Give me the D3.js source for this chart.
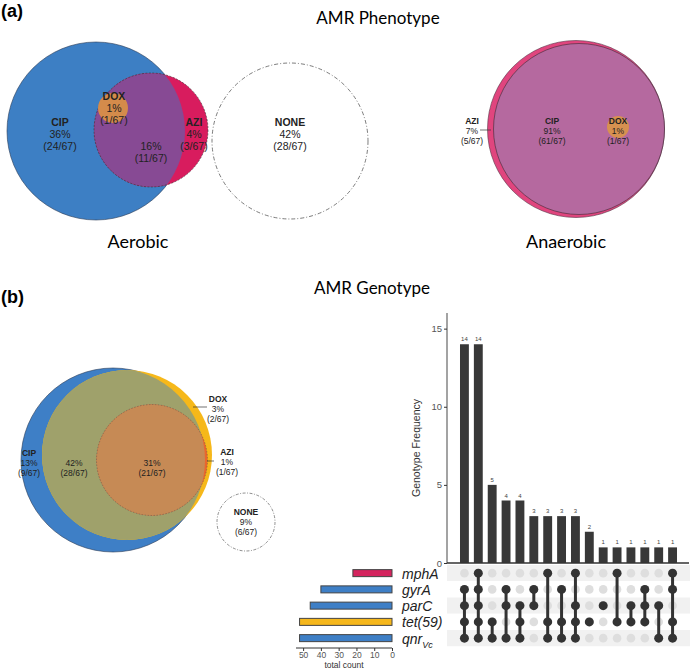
<!DOCTYPE html>
<html>
<head>
<meta charset="utf-8">
<script src="https://cdn.jsdelivr.net/npm/d3@7"></script>
<style>
  body { margin: 0; background: #fff; }
  svg { display: block; }
</style>
</head>
<body>
<svg id="chart" width="692" height="672"></svg>
<script>
// ---- data ----
var aerobicSets = ["CIP", "AZI", "DOX", "NONE"];
var aerobicPct = ["36%", "4%", "1%", "42%"];
var aerobicCount = ["(24/67)", "(3/67)", "(1/67)", "(28/67)"];
var aerobicOverlapPct = "16%";
var aerobicOverlapCount = "(11/67)";

var anaerobicSets = ["AZI", "CIP", "DOX"];
var anaerobicPct = ["7%", "91%", "1%"];
var anaerobicCount = ["(5/67)", "(61/67)", "(1/67)"];

var genoVennSets = ["CIP", "DOX", "AZI", "NONE"];
var genoVennPct = ["13%", "3%", "1%", "9%"];
var genoVennCount = ["(9/67)", "(2/67)", "(1/67)", "(6/67)"];
var genoOverlapPct = ["42%", "31%"];
var genoOverlapCount = ["(28/67)", "(21/67)"];

var genes = ["mphA", "gyrA", "parC", "tet(59)", "qnrVc"];
var geneTotals = [22, 40, 46, 52, 52];
var comboCounts = [14, 14, 5, 4, 4, 3, 3, 3, 3, 2, 1, 1, 1, 1, 1, 1];
var comboMembers = [
  ["gyrA", "parC", "tet(59)", "qnrVc"],
  ["mphA", "gyrA", "parC", "tet(59)", "qnrVc"],
  ["tet(59)", "qnrVc"],
  ["gyrA", "parC", "qnrVc"],
  ["parC", "tet(59)", "qnrVc"],
  ["gyrA", "parC"],
  ["mphA", "tet(59)", "qnrVc"],
  ["gyrA", "tet(59)", "qnrVc"],
  ["mphA", "parC", "tet(59)", "qnrVc"],
  ["tet(59)"],
  ["parC"],
  ["mphA", "tet(59)"],
  ["parC", "tet(59)"],
  ["gyrA", "parC", "tet(59)"],
  ["parC", "qnrVc"],
  ["mphA", "gyrA", "tet(59)", "qnrVc"]
];
var freqTicks = [0, 5, 10, 15];
var totalTicks = [50, 40, 30, 20, 10, 0];

var geneColor = { "mphA": "#d4245e", "gyrA": "#3e7fc6", "parC": "#3e7fc6", "tet(59)": "#f5b71c", "qnrVc": "#3e7fc6" };

var svg = d3.select("#chart");
var titleFont = "Lato, 'Open Sans', sans-serif";
var labFont = "'Liberation Sans', Arial, sans-serif";
var defs = svg.append("defs");

function clip(id, cx, cy, r) {
  defs.append("clipPath").attr("id", id)
    .append("circle").attr("cx", cx).attr("cy", cy).attr("r", r);
}

// three-line label: name (bold), percent, count
function label3(g, x, y, name, pct, cnt, size) {
  var t = g.append("text").attr("text-anchor", "middle")
    .attr("font-family", labFont).attr("font-size", size).attr("fill", "#222");
  var lh = size * 1.15;
  if (name) t.append("tspan").attr("x", x).attr("y", y).attr("font-weight", "bold").text(name);
  t.append("tspan").attr("x", x).attr("y", y + lh).text(pct);
  t.append("tspan").attr("x", x).attr("y", y + 2 * lh).text(cnt);
}

// ---- panel titles ----
svg.append("text").attr("x", 1).attr("y", 17).attr("font-family", labFont)
  .attr("font-weight", "bold").attr("font-size", 18).text("(a)");
svg.append("text").attr("x", 378).attr("y", 24).attr("text-anchor", "middle")
  .attr("font-family", titleFont).attr("font-size", 17).text("AMR Phenotype");
svg.append("text").attr("x", 1).attr("y", 303).attr("font-family", labFont)
  .attr("font-weight", "bold").attr("font-size", 18).text("(b)");
svg.append("text").attr("x", 372).attr("y", 294).attr("text-anchor", "middle")
  .attr("font-family", titleFont).attr("font-size", 17).text("AMR Genotype");

// ---- aerobic venn ----
var ga = svg.append("g");
clip("clipCipA", 96, 131, 89);
ga.append("circle").attr("cx", 96).attr("cy", 131).attr("r", 89)
  .attr("fill", "#3d7fc4").attr("stroke", "#2a3a55").attr("stroke-width", 0.6);
ga.append("circle").attr("cx", 151).attr("cy", 130).attr("r", 57)
  .attr("fill", "#d81c5e");
ga.append("circle").attr("cx", 151).attr("cy", 130).attr("r", 57)
  .attr("fill", "#874a94").attr("clip-path", "url(#clipCipA)");
ga.append("circle").attr("cx", 151).attr("cy", 130).attr("r", 57)
  .attr("fill", "none").attr("stroke", "#333").attr("stroke-width", 0.6)
  .attr("stroke-dasharray", "2,1.5");
ga.append("circle").attr("cx", 113).attr("cy", 108).attr("r", 15)
  .attr("fill", "#d48b4b");
ga.append("circle").attr("cx", 290).attr("cy", 141).attr("r", 78)
  .attr("fill", "#fff").attr("stroke", "#444").attr("stroke-width", 0.7)
  .attr("stroke-dasharray", "4,2,1,2");
label3(ga, 60, 126, aerobicSets[0], aerobicPct[0], aerobicCount[0], 10.5);
label3(ga, 194, 126, aerobicSets[1], aerobicPct[1], aerobicCount[1], 10.5);
label3(ga, 114, 100, aerobicSets[2], aerobicPct[2], aerobicCount[2], 10.5);
label3(ga, 290, 126, aerobicSets[3], aerobicPct[3], aerobicCount[3], 10.5);
label3(ga, 151, 138, null, aerobicOverlapPct, aerobicOverlapCount, 10.5);
svg.append("text").attr("x", 138).attr("y", 248).attr("text-anchor", "middle")
  .attr("font-family", titleFont).attr("font-size", 18).text("Aerobic");

// ---- anaerobic venn ----
var gn = svg.append("g");
gn.append("circle").attr("cx", 576).attr("cy", 129).attr("r", 88.5)
  .attr("fill", "#e0457e").attr("stroke", "#553344").attr("stroke-width", 0.6);
gn.append("circle").attr("cx", 579).attr("cy", 129).attr("r", 85.5)
  .attr("fill", "#b5699f").attr("stroke", "#3a2a35").attr("stroke-width", 0.6);
gn.append("circle").attr("cx", 618).attr("cy", 127).attr("r", 11)
  .attr("fill", "#d79150");
gn.append("line").attr("x1", 480).attr("x2", 491).attr("y1", 130).attr("y2", 130)
  .attr("stroke", "#333").attr("stroke-width", 0.7);
label3(gn, 472, 124, anaerobicSets[0], anaerobicPct[0], anaerobicCount[0], 8.5);
label3(gn, 552, 124, anaerobicSets[1], anaerobicPct[1], anaerobicCount[1], 8.5);
label3(gn, 618, 124, anaerobicSets[2], anaerobicPct[2], anaerobicCount[2], 8.5);
svg.append("text").attr("x", 566).attr("y", 248).attr("text-anchor", "middle")
  .attr("font-family", titleFont).attr("font-size", 18).text("Anaerobic");

// ---- genotype venn ----
var gv = svg.append("g");
clip("clipCipG", 113, 460, 92);
gv.append("circle").attr("cx", 113).attr("cy", 460).attr("r", 92)
  .attr("fill", "#3e7fc6").attr("stroke", "#2a3a55").attr("stroke-width", 0.6);
gv.append("circle").attr("cx", 127).attr("cy", 455).attr("r", 85)
  .attr("fill", "#f6b81a");
gv.append("circle").attr("cx", 127).attr("cy", 455).attr("r", 85)
  .attr("fill", "#9fa16b").attr("clip-path", "url(#clipCipG)");
gv.append("circle").attr("cx", 152).attr("cy", 460).attr("r", 55.5)
  .attr("fill", "#ea662c");
gv.append("circle").attr("cx", 152).attr("cy", 460).attr("r", 55.5)
  .attr("fill", "#c68a55").attr("clip-path", "url(#clipCipG)");
gv.append("circle").attr("cx", 152).attr("cy", 460).attr("r", 55.5)
  .attr("fill", "none").attr("stroke", "#555").attr("stroke-width", 0.5)
  .attr("stroke-dasharray", "1.5,1.5");
gv.append("circle").attr("cx", 246).attr("cy", 522).attr("r", 29)
  .attr("fill", "#fff").attr("stroke", "#444").attr("stroke-width", 0.6)
  .attr("stroke-dasharray", "3,1.5,1,1.5");
gv.append("line").attr("x1", 193).attr("x2", 207).attr("y1", 407).attr("y2", 407)
  .attr("stroke", "#333").attr("stroke-width", 0.7);
gv.append("line").attr("x1", 207).attr("x2", 214).attr("y1", 461).attr("y2", 461)
  .attr("stroke", "#333").attr("stroke-width", 0.7);
label3(gv, 29, 456, genoVennSets[0], genoVennPct[0], genoVennCount[0], 8.5);
label3(gv, 218, 402, genoVennSets[1], genoVennPct[1], genoVennCount[1], 8.5);
label3(gv, 227, 455, genoVennSets[2], genoVennPct[2], genoVennCount[2], 8.5);
label3(gv, 246, 515, genoVennSets[3], genoVennPct[3], genoVennCount[3], 8.5);
label3(gv, 74, 456, null, genoOverlapPct[0], genoOverlapCount[0], 8.5);
label3(gv, 152, 456, null, genoOverlapPct[1], genoOverlapCount[1], 8.5);

// ---- upset plot ----
var x = d3.scaleBand().domain(d3.range(comboCounts.length)).range([455, 682]).padding(0.36);
var y = d3.scaleLinear().domain([0, 16]).range([563, 313]);
var row = d3.scaleBand().domain(genes).range([565, 646.25]);
var tx = d3.scaleLinear().domain([0, 54]).range([392, 296]);

var gu = svg.append("g");

// frequency bars
gu.selectAll("rect.bar").data(comboCounts).enter().append("rect")
  .attr("class", "bar")
  .attr("x", function(d, i) { return x(i); })
  .attr("y", function(d) { return y(d); })
  .attr("width", x.bandwidth())
  .attr("height", function(d) { return y(0) - y(d); })
  .attr("fill", "#383838");
gu.selectAll("text.blab").data(comboCounts).enter().append("text")
  .attr("class", "blab")
  .attr("x", function(d, i) { return x(i) + x.bandwidth() / 2; })
  .attr("y", function(d) { return y(d) - 3; })
  .attr("text-anchor", "middle").attr("font-family", labFont)
  .attr("font-size", 6).attr("fill", "#444")
  .text(function(d) { return d; });

var yAxis = gu.append("g").attr("transform", "translate(447,0)")
  .call(d3.axisLeft(y).tickValues(freqTicks).tickSize(3).tickPadding(2));
yAxis.select(".domain").attr("d", "M0," + y(16) + "V" + y(0)).attr("stroke", "#666").attr("stroke-width", 1.2);
yAxis.selectAll(".tick line").attr("stroke", "#333");
yAxis.selectAll(".tick text").attr("font-family", labFont).attr("font-size", 9.5).attr("fill", "#555");
gu.append("line").attr("x1", 447).attr("x2", 689).attr("y1", y(0)).attr("y2", y(0))
  .attr("stroke", "#333").attr("stroke-width", 1.5);
gu.append("text").attr("transform", "translate(420," + ((y(0) + y(16)) / 2 + 10) + ") rotate(-90)")
  .attr("text-anchor", "middle").attr("font-family", labFont).attr("font-size", 10.5)
  .attr("fill", "#333").text("Genotype Frequency");

// matrix stripes
gu.selectAll("rect.stripe").data(genes).enter().append("rect")
  .attr("class", "stripe")
  .attr("x", 447).attr("width", 243)
  .attr("y", function(d) { return row(d); })
  .attr("height", row.bandwidth())
  .attr("fill", function(d, i) { return i % 2 === 0 ? "#f1f1f1" : "#fff"; });

// grey dots
var grid = [];
comboCounts.forEach(function(c, i) {
  genes.forEach(function(g) { grid.push({ col: i, gene: g }); });
});
gu.selectAll("circle.empty").data(grid).enter().append("circle")
  .attr("class", "empty")
  .attr("cx", function(d) { return x(d.col) + x.bandwidth() / 2; })
  .attr("cy", function(d) { return row(d.gene) + row.bandwidth() / 2; })
  .attr("r", 4.3).attr("fill", "#dedede");

// connecting lines and active dots
comboMembers.forEach(function(m, i) {
  var cx = x(i) + x.bandwidth() / 2;
  var ys = m.map(function(g) { return row(g) + row.bandwidth() / 2; });
  gu.append("line").attr("x1", cx).attr("x2", cx)
    .attr("y1", d3.min(ys)).attr("y2", d3.max(ys))
    .attr("stroke", "#333").attr("stroke-width", 3);
  gu.selectAll(null).data(ys).enter().append("circle")
    .attr("cx", cx).attr("cy", function(d) { return d; })
    .attr("r", 4.5).attr("fill", "#333");
});

// set size bars
gu.selectAll("rect.set").data(genes).enter().append("rect")
  .attr("class", "set")
  .attr("x", function(d, i) { return tx(geneTotals[i]); })
  .attr("y", function(d) { return row(d) + row.bandwidth() / 2 - 3.5; })
  .attr("width", function(d, i) { return tx(0) - tx(geneTotals[i]); })
  .attr("height", 7)
  .attr("fill", function(d) { return geneColor[d]; })
  .attr("stroke", "#444").attr("stroke-width", 1);

var tAxis = gu.append("g").attr("transform", "translate(0,648)")
  .call(d3.axisBottom(tx).tickValues(totalTicks).tickSize(3).tickPadding(1));
tAxis.select(".domain").attr("d", "M296,0H392").attr("stroke", "#333");
tAxis.selectAll(".tick line").attr("stroke", "#333");
tAxis.selectAll(".tick text").attr("font-family", labFont).attr("font-size", 8.5).attr("fill", "#555");
gu.append("text").attr("x", 344).attr("y", 668).attr("text-anchor", "middle")
  .attr("font-family", labFont).attr("font-size", 8.5).attr("fill", "#333").text("total count");

// gene labels
genes.forEach(function(g) {
  var t = gu.append("text").attr("x", 402).attr("y", row(g) + row.bandwidth() / 2 + 5.5)
    .attr("font-family", labFont).attr("font-style", "italic").attr("font-size", 14)
    .attr("fill", "#222");
  if (g === "qnrVc") {
    t.append("tspan").text("qnr");
    t.append("tspan").attr("font-size", 9).attr("dy", 4).text("Vc");
  } else {
    t.text(g);
  }
});
</script>
</body>
</html>
